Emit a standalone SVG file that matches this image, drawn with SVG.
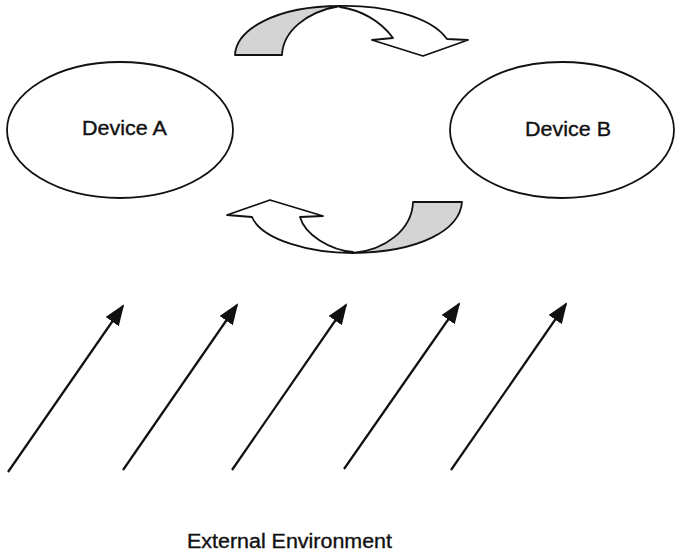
<svg xmlns="http://www.w3.org/2000/svg" width="676" height="553" viewBox="0 0 676 553">
<style>
.node{fill:#fff;stroke:#111;stroke-width:1.8}
.lbl{font-family:"Liberation Sans",Arial,sans-serif;font-size:20px;fill:#111;stroke:#111;stroke-width:0.35;text-anchor:middle}
.band{stroke:#111;stroke-width:1.8;stroke-linejoin:round}
.shade{fill:#d4d4d4}
.white{fill:#fff}
.env{stroke:#111;stroke-width:2.2;fill:none;marker-end:url(#ah)}
</style>
<defs>
<marker id="ah" markerUnits="userSpaceOnUse" markerWidth="22" markerHeight="18" refX="19" refY="8" orient="auto" viewBox="0 0 22 18">
<path d="M0,0 L21,8 L0,16 Z" fill="#111"/>
</marker>
</defs>
<rect width="676" height="553" fill="#fff"/>
<g id="deviceA">
<ellipse class="node" cx="120" cy="130" rx="113" ry="68"/>
<text class="lbl" x="124.5" y="135" textLength="85" lengthAdjust="spacingAndGlyphs">Device A</text>
</g>
<g id="deviceB">
<ellipse class="node" cx="562" cy="130" rx="112" ry="68"/>
<text class="lbl" x="568" y="136" textLength="86" lengthAdjust="spacingAndGlyphs">Device B</text>
</g>
<g id="connectors">
<g id="arrowAtoB">
<path class="band shade" d="M235,55 C236,30 275,6 340,6 C305,12 283,32 282,55 Z"/>
<path class="band white" d="M340,6 C380,5 430,15 447,39 L468,40 L423,56 L372,40 L393,38 C380,20 360,10 340,7 Z"/>
</g>
<g id="arrowBtoA">
<path class="band shade" d="M413,202 L462,202 C460,230 420,252 353,253 C385,250 412,230 413,202 Z"/>
<path class="band white" d="M353,253 C310,253 262,240 252,217 L227,215 L270,200 L323,216 L300,217 C305,235 330,250 353,252 Z"/>
</g>
<line class="env" x1="8" y1="472" x2="123" y2="306"/>
<line class="env" x1="123" y1="470" x2="237" y2="305"/>
<line class="env" x1="232" y1="470" x2="346" y2="305"/>
<line class="env" x1="344" y1="469" x2="459" y2="304"/>
<line class="env" x1="451" y1="470" x2="566" y2="304"/>
</g>
<g id="environment">
<text class="lbl" x="289.5" y="548" textLength="205" lengthAdjust="spacingAndGlyphs">External Environment</text>
</g>
</svg>
